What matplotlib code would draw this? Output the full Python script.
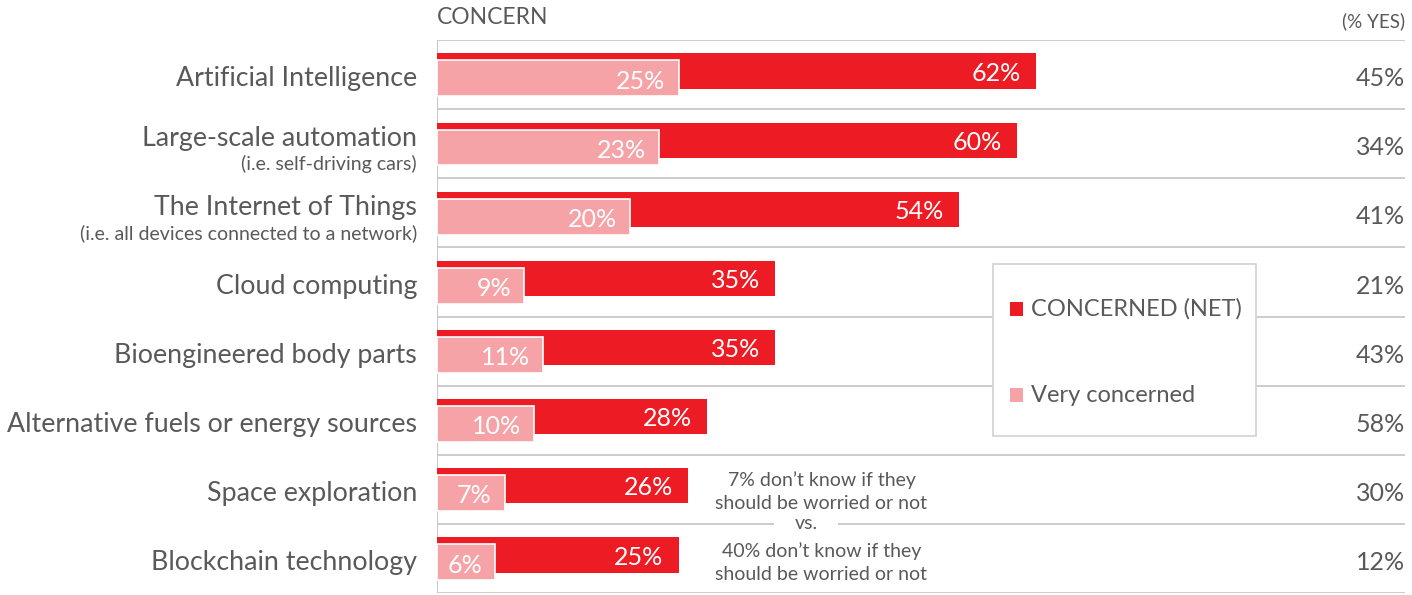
import matplotlib.pyplot as plt
from matplotlib.patches import Rectangle

CATEGORIES = [
    "Artificial Intelligence",
    "Large-scale automation",
    "The Internet of Things",
    "Cloud computing",
    "Bioengineered body parts",
    "Alternative fuels or energy sources",
    "Space exploration",
    "Blockchain technology",
]
SUBLABELS = [
    "",
    "(i.e. self-driving cars)",
    "(i.e. all devices connected to a network)",
    "", "", "", "", "",
]
CONCERNED_NET = [62, 60, 54, 35, 35, 28, 26, 25]
VERY_CONCERNED = [25, 23, 20, 9, 11, 10, 7, 6]
WOULD_USE = [45, 34, 41, 21, 43, 58, 30, 12]

RED = "#ED1C24"
PINK = "#F5A3A7"
GREY_TXT = "#595959"
GREY_LINE = "#C8C8C8"

plt.rcParams["font.family"] = ["Lato", "DejaVu Sans"]

fig = plt.figure(figsize=(14.12, 5.95), dpi=100)
ax = fig.add_axes([437 / 1412, 2 / 595, 968 / 1412, 553 / 595])
ax.set_xlim(0, 100.2)
ax.set_ylim(len(CATEGORIES), 0)
ax.axis("off")

# row separators and left spine
for i in range(len(CATEGORIES) + 1):
    ax.axhline(i, color=GREY_LINE, lw=1.3, zorder=0)
ax.axvline(0, color=GREY_LINE, lw=1.5, zorder=0)

rows = range(len(CATEGORIES))
red_y = [r + 0.45 for r in rows]
pink_y = [r + 0.555 for r in rows]

ax.barh(red_y, CONCERNED_NET, height=0.51, color=RED, zorder=2)
ax.barh(pink_y, VERY_CONCERNED, height=0.52, color=PINK,
        edgecolor="white", linewidth=1.2, zorder=3)

for y, v in zip(red_y, CONCERNED_NET):
    ax.annotate(f"{v}%", (v, y + 0.03), xytext=(-15, 0), textcoords="offset pixels",
                ha="right", va="center", color="white", fontsize=18, zorder=4)
for y, v in zip(pink_y, VERY_CONCERNED):
    ax.annotate(f"{v}%", (v, y + 0.04), xytext=(-13, 0), textcoords="offset pixels",
                ha="right", va="center", color="white", fontsize=18, zorder=4)

# right-hand column of "yes" percentages
for r, v in zip(rows, WOULD_USE):
    ax.text(1.0, r + 0.56, f"{v}%", transform=ax.get_yaxis_transform(),
            ha="right", va="center", color=GREY_TXT, fontsize=18)

# category labels
for r, (name, sub) in enumerate(zip(CATEGORIES, SUBLABELS)):
    if sub:
        ax.annotate(name, (0, r + 0.42), xytext=(-20, 0), textcoords="offset pixels",
                    ha="right", va="center", color=GREY_TXT, fontsize=19.3,
                    annotation_clip=False)
        ax.annotate(sub, (0, r + 0.8), xytext=(-20, 0), textcoords="offset pixels",
                    ha="right", va="center", color=GREY_TXT, fontsize=14,
                    annotation_clip=False)
    else:
        ax.annotate(name, (0, r + 0.56), xytext=(-20, 0), textcoords="offset pixels",
                    ha="right", va="center", color=GREY_TXT, fontsize=19.3,
                    annotation_clip=False)

# headers
fig.text(437 / 1412, 1 - 18 / 595, "CONCERN", ha="left", va="center",
         color=GREY_TXT, fontsize=16.5)
fig.text(1405 / 1412, 1 - 21 / 595, "(% YES)", ha="right", va="center",
         color=GREY_TXT, fontsize=13.5)

# legend box
ax.add_patch(Rectangle((57.6, 3.24), 27.2, 2.49, facecolor="white",
                       edgecolor="#D4D4D4", lw=1.3, zorder=5))
ax.add_patch(Rectangle((59.3, 3.79), 1.4, 0.2, facecolor=RED, zorder=6))
ax.add_patch(Rectangle((59.3, 5.04), 1.4, 0.2, facecolor=PINK, zorder=6))
ax.text(61.5, 3.89, "CONCERNED (NET)", ha="left", va="center",
        color=GREY_TXT, fontsize=17, zorder=6)
ax.text(61.5, 5.14, "Very concerned", ha="left", va="center",
        color=GREY_TXT, fontsize=17, zorder=6)

# note comparing the two lowest rows
ax.text(39.8, 6.53, "7% don\u2019t know if they\nshould be worried or not",
        ha="center", va="center", color=GREY_TXT, fontsize=14, linespacing=1.4)
ax.text(38.2, 6.99, "vs.", ha="center", va="center", color=GREY_TXT, fontsize=14,
        bbox=dict(facecolor="white", edgecolor="none", pad=15), zorder=1)
ax.text(39.8, 7.56, "40% don\u2019t know if they\nshould be worried or not",
        ha="center", va="center", color=GREY_TXT, fontsize=14, linespacing=1.4)

fig.savefig("out.png", dpi=100, facecolor="white")
